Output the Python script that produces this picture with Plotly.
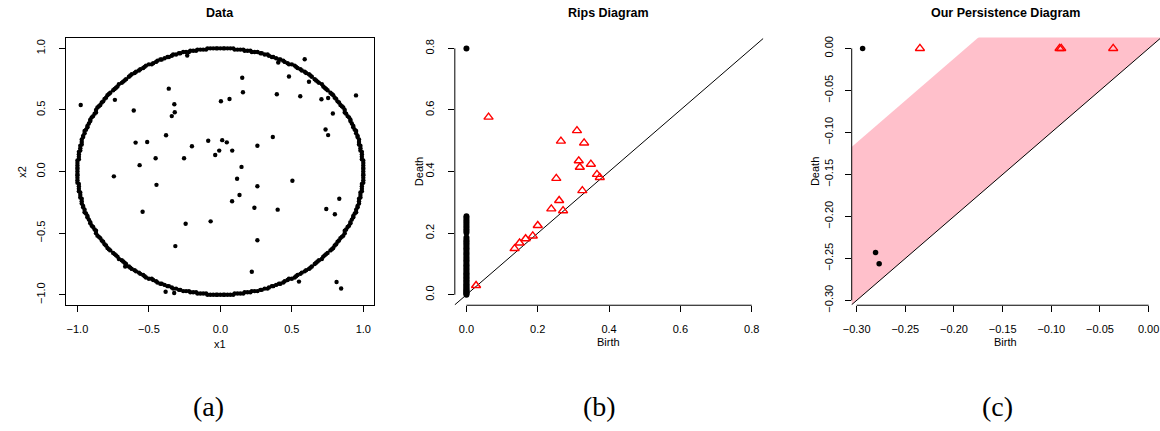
import plotly.graph_objects as go

W, H = 1160, 431

# ---------------- Panel (a): Data ----------------
# ring points (even angles)
ring_x = [
    1.00, 1.00, 1.00, 0.99, 0.99, 0.98, 0.98, 0.97, 0.96, 0.95, 0.94, 0.93, 0.91, 0.90, 0.88, 0.87, 0.85, 0.83, 0.81, 0.79, 0.77, 0.74, 0.72, 0.69, 0.67, 0.64, 0.62, 0.59, 0.56, 0.53, 0.50, 0.47, 0.44, 0.41, 0.37, 0.34, 0.31, 0.28, 0.24, 0.21, 0.17, 0.14, 0.10, 0.07, 0.03,
    0.00, -0.03, -0.07, -0.10, -0.14, -0.17, -0.21, -0.24, -0.28, -0.31, -0.34, -0.37, -0.41, -0.44, -0.47, -0.50, -0.53, -0.56, -0.59, -0.62, -0.64, -0.67, -0.69, -0.72, -0.74, -0.77, -0.79, -0.81, -0.83, -0.85, -0.87, -0.88, -0.90, -0.91, -0.93, -0.94, -0.95, -0.96, -0.97, -0.98, -0.98, -0.99, -0.99, -1.00, -1.00,
    -1.00, -1.00, -1.00, -0.99, -0.99, -0.98, -0.98, -0.97, -0.96, -0.95, -0.94, -0.93, -0.91, -0.90, -0.88, -0.87, -0.85, -0.83, -0.81, -0.79, -0.77, -0.74, -0.72, -0.69, -0.67, -0.64, -0.62, -0.59, -0.56, -0.53, -0.50, -0.47, -0.44, -0.41, -0.37, -0.34, -0.31, -0.28, -0.24, -0.21, -0.17, -0.14, -0.10, -0.07, -0.03,
    0.00, 0.03, 0.07, 0.10, 0.14, 0.17, 0.21, 0.24, 0.28, 0.31, 0.34, 0.37, 0.41, 0.44, 0.47, 0.50, 0.53, 0.56, 0.59, 0.62, 0.64, 0.67, 0.69, 0.72, 0.74, 0.77, 0.79, 0.81, 0.83, 0.85, 0.87, 0.88, 0.90, 0.91, 0.93, 0.94, 0.95, 0.96, 0.97, 0.98, 0.98, 0.99, 0.99, 1.00, 1.00,
]
ring_y = [
    0.00, 0.03, 0.07, 0.10, 0.14, 0.17, 0.21, 0.24, 0.28, 0.31, 0.34, 0.37, 0.41, 0.44, 0.47, 0.50, 0.53, 0.56, 0.59, 0.62, 0.64, 0.67, 0.69, 0.72, 0.74, 0.77, 0.79, 0.81, 0.83, 0.85, 0.87, 0.88, 0.90, 0.91, 0.93, 0.94, 0.95, 0.96, 0.97, 0.98, 0.98, 0.99, 0.99, 1.00, 1.00,
    1.00, 1.00, 1.00, 0.99, 0.99, 0.98, 0.98, 0.97, 0.96, 0.95, 0.94, 0.93, 0.91, 0.90, 0.88, 0.87, 0.85, 0.83, 0.81, 0.79, 0.77, 0.74, 0.72, 0.69, 0.67, 0.64, 0.62, 0.59, 0.56, 0.53, 0.50, 0.47, 0.44, 0.41, 0.37, 0.34, 0.31, 0.28, 0.24, 0.21, 0.17, 0.14, 0.10, 0.07, 0.03,
    0.00, -0.03, -0.07, -0.10, -0.14, -0.17, -0.21, -0.24, -0.28, -0.31, -0.34, -0.37, -0.41, -0.44, -0.47, -0.50, -0.53, -0.56, -0.59, -0.62, -0.64, -0.67, -0.69, -0.72, -0.74, -0.77, -0.79, -0.81, -0.83, -0.85, -0.87, -0.88, -0.90, -0.91, -0.93, -0.94, -0.95, -0.96, -0.97, -0.98, -0.98, -0.99, -0.99, -1.00, -1.00,
    -1.00, -1.00, -1.00, -0.99, -0.99, -0.98, -0.98, -0.97, -0.96, -0.95, -0.94, -0.93, -0.91, -0.90, -0.88, -0.87, -0.85, -0.83, -0.81, -0.79, -0.77, -0.74, -0.72, -0.69, -0.67, -0.64, -0.62, -0.59, -0.56, -0.53, -0.50, -0.47, -0.44, -0.41, -0.37, -0.34, -0.31, -0.28, -0.24, -0.21, -0.17, -0.14, -0.10, -0.07, -0.03,
]
# ring points (odd angles)
ring2_x = [
    1.00, 1.00, 1.00, 0.99, 0.99, 0.98, 0.97, 0.97, 0.96, 0.95, 0.93, 0.92, 0.91, 0.89, 0.87, 0.86, 0.84, 0.82, 0.80, 0.78, 0.75, 0.73, 0.71, 0.68, 0.66, 0.63, 0.60, 0.57, 0.54, 0.52, 0.48, 0.45, 0.42, 0.39, 0.36, 0.33, 0.29, 0.26, 0.22, 0.19, 0.16, 0.12, 0.09, 0.05, 0.02,
    -0.02, -0.05, -0.09, -0.12, -0.16, -0.19, -0.22, -0.26, -0.29, -0.33, -0.36, -0.39, -0.42, -0.45, -0.48, -0.52, -0.54, -0.57, -0.60, -0.63, -0.66, -0.68, -0.71, -0.73, -0.75, -0.78, -0.80, -0.82, -0.84, -0.86, -0.87, -0.89, -0.91, -0.92, -0.93, -0.95, -0.96, -0.97, -0.97, -0.98, -0.99, -0.99, -1.00, -1.00, -1.00,
    -1.00, -1.00, -1.00, -0.99, -0.99, -0.98, -0.97, -0.97, -0.96, -0.95, -0.93, -0.92, -0.91, -0.89, -0.87, -0.86, -0.84, -0.82, -0.80, -0.78, -0.75, -0.73, -0.71, -0.68, -0.66, -0.63, -0.60, -0.57, -0.54, -0.52, -0.48, -0.45, -0.42, -0.39, -0.36, -0.33, -0.29, -0.26, -0.22, -0.19, -0.16, -0.12, -0.09, -0.05, -0.02,
    0.02, 0.05, 0.09, 0.12, 0.16, 0.19, 0.22, 0.26, 0.29, 0.33, 0.36, 0.39, 0.42, 0.45, 0.48, 0.52, 0.54, 0.57, 0.60, 0.63, 0.66, 0.68, 0.71, 0.73, 0.75, 0.78, 0.80, 0.82, 0.84, 0.86, 0.87, 0.89, 0.91, 0.92, 0.93, 0.95, 0.96, 0.97, 0.97, 0.98, 0.99, 0.99, 1.00, 1.00, 1.00,
]
ring2_y = [
    0.02, 0.05, 0.09, 0.12, 0.16, 0.19, 0.22, 0.26, 0.29, 0.33, 0.36, 0.39, 0.42, 0.45, 0.48, 0.52, 0.54, 0.57, 0.60, 0.63, 0.66, 0.68, 0.71, 0.73, 0.75, 0.78, 0.80, 0.82, 0.84, 0.86, 0.87, 0.89, 0.91, 0.92, 0.93, 0.95, 0.96, 0.97, 0.97, 0.98, 0.99, 0.99, 1.00, 1.00, 1.00,
    1.00, 1.00, 1.00, 0.99, 0.99, 0.98, 0.97, 0.97, 0.96, 0.95, 0.93, 0.92, 0.91, 0.89, 0.87, 0.86, 0.84, 0.82, 0.80, 0.78, 0.75, 0.73, 0.71, 0.68, 0.66, 0.63, 0.60, 0.57, 0.54, 0.52, 0.48, 0.45, 0.42, 0.39, 0.36, 0.33, 0.29, 0.26, 0.22, 0.19, 0.16, 0.12, 0.09, 0.05, 0.02,
    -0.02, -0.05, -0.09, -0.12, -0.16, -0.19, -0.22, -0.26, -0.29, -0.33, -0.36, -0.39, -0.42, -0.45, -0.48, -0.52, -0.54, -0.57, -0.60, -0.63, -0.66, -0.68, -0.71, -0.73, -0.75, -0.78, -0.80, -0.82, -0.84, -0.86, -0.87, -0.89, -0.91, -0.92, -0.93, -0.95, -0.96, -0.97, -0.97, -0.98, -0.99, -0.99, -1.00, -1.00, -1.00,
    -1.00, -1.00, -1.00, -0.99, -0.99, -0.98, -0.97, -0.97, -0.96, -0.95, -0.93, -0.92, -0.91, -0.89, -0.87, -0.86, -0.84, -0.82, -0.80, -0.78, -0.75, -0.73, -0.71, -0.68, -0.66, -0.63, -0.60, -0.57, -0.54, -0.52, -0.48, -0.45, -0.42, -0.39, -0.36, -0.33, -0.29, -0.26, -0.22, -0.19, -0.16, -0.12, -0.09, -0.05, -0.02,
]
noise_x = [-0.977, -0.738, -0.606, -0.361, -0.322, -0.319, -0.340, -0.380, -0.593, -0.512,
           -0.565, -0.453, -0.745, -0.447, -0.544, -0.254, -0.199, -0.085, 0.013, 0.045,
           -0.008, -0.036, 0.083, 0.004, 0.064, 0.153, 0.158, 0.148, 0.117, 0.134,
           0.082, 0.259, 0.259, 0.238, 0.259, 0.220, -0.068, -0.243, -0.315, 0.367,
           0.395, 0.401, 0.504, 0.480, 0.559, 0.590, 0.620, 0.707, 0.754, 0.787,
           0.736, 0.754, 0.949, 0.832, 0.741, 0.801, 0.550, 0.813, 0.845, -0.383,
           -0.323, -0.666, -0.232, 0.405]
noise_y = [0.540, 0.582, 0.495, 0.673, 0.546, 0.482, 0.450, 0.295, 0.235, 0.240,
           0.052, 0.108, -0.039, -0.108, -0.326, 0.108, 0.206, 0.250, 0.255, 0.237,
           0.170, 0.134, 0.170, 0.571, 0.589, 0.762, 0.644, 0.038, -0.058, -0.190,
           -0.241, 0.209, -0.119, -0.294, -0.558, -0.813, -0.404, -0.424, -0.605, 0.280,
           0.628, -0.309, -0.075, 0.772, 0.611, 0.912, 0.729, 0.587, 0.597, 0.471,
           0.342, 0.296, 0.618, -0.221, -0.304, -0.346, -0.893, -0.896, -0.949, -0.976,
           -0.986, -0.771, 0.942, 0.885]

# ---------------- Panel (b): Rips Diagram ----------------
rips_h0_death = [0.000, 0.003, 0.006, 0.009, 0.012, 0.015, 0.019, 0.022, 0.026, 0.030,
                 0.034, 0.038, 0.043, 0.047, 0.052, 0.056, 0.061, 0.066, 0.070, 0.075,
                 0.080, 0.085, 0.091, 0.096, 0.101, 0.107, 0.112, 0.118, 0.123, 0.129,
                 0.134, 0.140, 0.146, 0.151, 0.157, 0.163, 0.168, 0.174, 0.179, 0.186,
                 0.201, 0.207, 0.213, 0.219, 0.225, 0.231, 0.237, 0.243, 0.249, 0.255,
                 0.800]
rips_h0_birth = [0.0] * len(rips_h0_death)
rips_h1_birth = [0.062, 0.027, 0.135, 0.149, 0.166, 0.186, 0.200, 0.238, 0.260, 0.271,
                 0.252, 0.265, 0.310, 0.330, 0.315, 0.318, 0.349, 0.366, 0.374, 0.325]
rips_h1_death = [0.577, 0.030, 0.150, 0.168, 0.182, 0.191, 0.225, 0.279, 0.306, 0.273,
                 0.378, 0.499, 0.533, 0.493, 0.435, 0.414, 0.424, 0.391, 0.381, 0.338]

# ---------------- Panel (c): Our Persistence Diagram ----------------
our_h0_birth = [-0.2939, -0.2806, -0.2769]
our_h0_death = [0.0, -0.2431, -0.2564]
our_h1_birth = [-0.235, -0.0915, -0.0898, -0.0364]
our_h1_death = [0.0, 0.0, 0.0, 0.0]
band_width = 0.188

# ---------------- tick labels ----------------
a_ticks = [-1.0, -0.5, 0.0, 0.5, 1.0]
b_ticks = [0.0, 0.2, 0.4, 0.6, 0.8]
c_ticks = [-0.30, -0.25, -0.20, -0.15, -0.10, -0.05, 0.00]

# ---------------- layout geometry (pixels) ----------------
A_X = (57.3, 368.3)
B_X = (449.3, 760.0)
C_X = (849.3, 1160.0)
PLOT_Y = (37.2, 310.0)


def fx(p):
    return p / W


def fy(p):
    return 1 - p / H


dom_y = [fy(PLOT_Y[1]), fy(PLOT_Y[0])]

FONT = "Liberation Sans, Arial, Helvetica, sans-serif"
SERIF = "Liberation Serif, Times New Roman, serif"
tickfont = dict(family=FONT, size=11, color="black")

fig = go.Figure()

# (a)
for xs, ys in ((ring_x, ring_y), (ring2_x, ring2_y), (noise_x, noise_y)):
    fig.add_trace(go.Scatter(x=xs, y=ys, mode="markers", xaxis="x", yaxis="y",
                             marker=dict(color="black", size=4.4), showlegend=False, hoverinfo="skip"))

# (b)
diag = [-2, 2]
fig.add_trace(go.Scatter(x=diag, y=diag, mode="lines", xaxis="x2", yaxis="y2",
                         line=dict(color="black", width=1), showlegend=False, hoverinfo="skip"))
fig.add_trace(go.Scatter(x=rips_h0_birth, y=rips_h0_death, mode="markers", xaxis="x2", yaxis="y2",
                         marker=dict(color="black", size=6), showlegend=False, cliponaxis=False))
fig.add_trace(go.Scatter(x=rips_h1_birth, y=rips_h1_death, mode="markers", xaxis="x2", yaxis="y2",
                         marker=dict(symbol="triangle-up-open", color="red", size=8,
                                     line=dict(color="red", width=1.4)),
                         showlegend=False, cliponaxis=False))

# (c)
band_x = [diag[0], diag[0], diag[1], diag[1]]
band_y = [diag[0], diag[0] + band_width, diag[1] + band_width, diag[1]]
fig.add_trace(go.Scatter(x=band_x, y=band_y, mode="lines", fill="toself", fillcolor="#FFC0CB",
                         line=dict(width=0, color="#FFC0CB"), xaxis="x3", yaxis="y3",
                         showlegend=False, hoverinfo="skip"))
fig.add_trace(go.Scatter(x=diag, y=diag, mode="lines", xaxis="x3", yaxis="y3",
                         line=dict(color="black", width=1), showlegend=False, hoverinfo="skip"))
fig.add_trace(go.Scatter(x=our_h0_birth, y=our_h0_death, mode="markers", xaxis="x3", yaxis="y3",
                         marker=dict(color="black", size=5.5), showlegend=False, cliponaxis=False))
fig.add_trace(go.Scatter(x=our_h1_birth, y=our_h1_death, mode="markers", xaxis="x3", yaxis="y3",
                         marker=dict(symbol="triangle-up-open", color="red", size=8,
                                     line=dict(color="red", width=1.4)),
                         showlegend=False, cliponaxis=False))


def fmt_ticks(ticks, fmt):
    return [fmt.format(t).replace("-", "\u2212") for t in ticks]


def xaxis(dom, rng, ticks, fmt, box=False, anchor="y"):
    return dict(domain=[fx(dom[0]), fx(dom[1])], range=rng, anchor=anchor,
                tickmode="array", tickvals=ticks, ticktext=fmt_ticks(ticks, fmt),
                ticks="outside", ticklen=6, tickwidth=1, tickcolor="black",
                showline=box, linecolor="black", linewidth=1, mirror=box,
                showgrid=False, zeroline=False, tickfont=tickfont, ticklabelstandoff=8)


def yaxis(rng, ticks, fmt, box=False, anchor="x", standoff=9):
    return dict(domain=dom_y, range=rng, anchor=anchor,
                tickmode="array", tickvals=ticks, ticktext=fmt_ticks(ticks, fmt),
                ticks="outside", ticklen=6, tickwidth=1, tickcolor="black",
                showline=box, linecolor="black", linewidth=1, mirror=box,
                showgrid=False, zeroline=False, tickfont=tickfont, tickangle=-90,
                ticklabelstandoff=standoff)


fig.update_layout(
    width=W, height=H, margin=dict(l=0, r=0, t=0, b=0),
    paper_bgcolor="white", plot_bgcolor="white", showlegend=False,
    xaxis=xaxis(A_X, [-1.081, 1.078], a_ticks, "{:.1f}", box=True, anchor="y"),
    yaxis=yaxis([-1.085, 1.088], a_ticks, "{:.1f}", box=True, anchor="x", standoff=9),
    xaxis2=xaxis(B_X, [-0.0326, 0.832], b_ticks, "{:.1f}", anchor="y2"),
    yaxis2=yaxis([-0.0341, 0.8354], b_ticks, "{:.1f}", anchor="x2", standoff=9),
    xaxis3=xaxis(C_X, [-0.3051, 0.0117], c_ticks, "{:.2f}", anchor="y3"),
    yaxis3=yaxis([-0.3058, 0.0130], c_ticks, "{:.2f}", anchor="x3", standoff=7),
)

# R-style axis lines spanning only the tick range (panels b and c)
for xa, ya, ticks in (("x2", "y2", b_ticks), ("x3", "y3", c_ticks)):
    fig.add_shape(type="line", xref=xa, yref=ya + " domain", x0=ticks[0], x1=ticks[-1], y0=0, y1=0,
                  line=dict(color="black", width=1))
    fig.add_shape(type="line", xref=xa + " domain", yref=ya, x0=0, x1=0, y0=ticks[0], y1=ticks[-1],
                  line=dict(color="black", width=1))

titles = [("Data", A_X), ("Rips Diagram", B_X), ("Our Persistence Diagram", C_X)]
for text, dom in titles:
    fig.add_annotation(text="<b>" + text + "</b>", xref="paper", yref="paper",
                       x=fx((dom[0] + dom[1]) / 2), y=fy(12), showarrow=False,
                       font=dict(family=FONT, size=12.5, color="black"), xanchor="center", yanchor="middle")

xlabels = [("x1", A_X, 349), ("Birth", B_X, 347), ("Birth", C_X, 347)]
for text, dom, yy in xlabels:
    fig.add_annotation(text=text, xref="paper", yref="paper", x=fx((dom[0] + dom[1]) / 2), y=fy(yy),
                       showarrow=False, font=dict(family=FONT, size=11, color="black"),
                       xanchor="center", yanchor="middle")

ylabels = [("x2", 13.5), ("Death", 414), ("Death", 813)]
ymid = (PLOT_Y[0] + PLOT_Y[1]) / 2
for text, xx in ylabels:
    fig.add_annotation(text=text, xref="paper", yref="paper", x=fx(xx), y=fy(ymid), textangle=-90,
                       showarrow=False, font=dict(family=FONT, size=11, color="black"),
                       xanchor="center", yanchor="middle")

captions = [("(a)", 201), ("(b)", 595), ("(c)", 996)]
for text, xx in captions:
    fig.add_annotation(text=text, xref="paper", yref="paper", x=fx(xx), y=fy(413),
                       showarrow=False, font=dict(family=SERIF, size=28, color="black"),
                       xanchor="center", yanchor="middle")

fig.write_html("out.html")
